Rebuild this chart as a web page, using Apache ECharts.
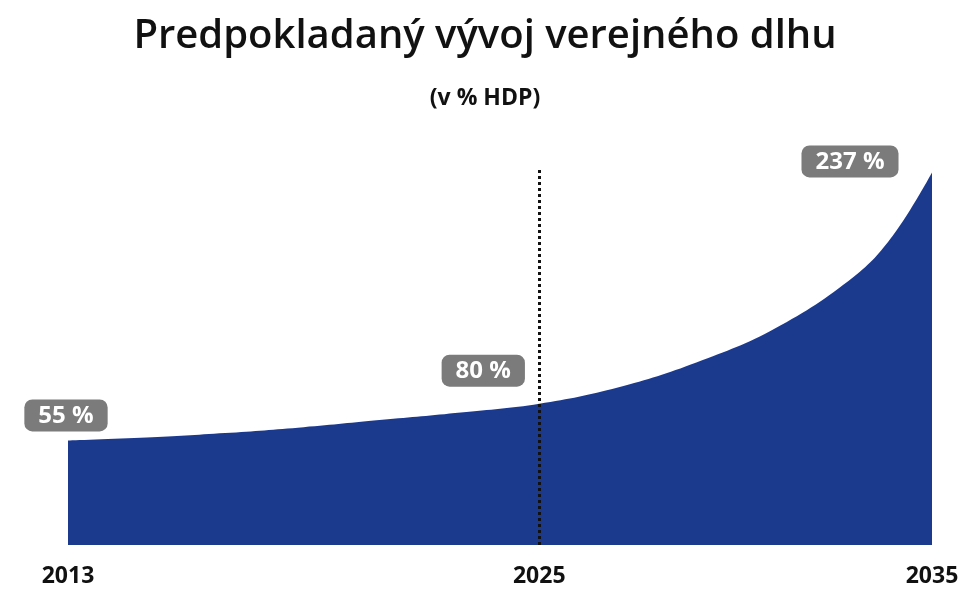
<!DOCTYPE html>
<html><head><meta charset="utf-8">
<script src="https://cdn.jsdelivr.net/npm/echarts@6/dist/echarts.min.js"></script>
<style>html,body{margin:0;padding:0;background:#fff}#c{width:970px;height:602px}</style>
</head><body><div id="c"></div>
<script>
const years = [2013,2015,2017,2019,2021,2023,2025,2027,2029,2031,2033,2034,2035];
const debt  = [55,57,60,64,69,74,80,91,108,131,166,194,237];
const tickYears = [2013,2025,2035];
const labelled = {2013:[-2,-4], 2025:[-56,-12], 2035:[-82,10]};
const chart = echarts.init(document.getElementById('c'));
const lbl = {show:true, position:'top', formatter:p=>p.value[1]+' %', color:'#fff', fontSize:24, fontWeight:'bold',
  fontFamily:'Open Sans', backgroundColor:'#7b7b7b', borderRadius:8, padding:[5,14,3,14]};
chart.setOption({
  title:[{text:'Predpokladaný vývoj verejného dlhu', left:'center', top:12,
    textStyle:{fontFamily:'Open Sans', fontSize:40, fontWeight:600, color:'#111'}},
    {text:'(v % HDP)', left:'center', top:82, textStyle:{fontFamily:'Open Sans', fontSize:23, fontWeight:'bold', color:'#111'}}],
  grid:{left:68, right:38, top:168, bottom:57},
  xAxis:{type:'value', min:2013, max:2035, axisLine:{show:false}, axisTick:{show:false}, splitLine:{show:false},
    axisLabel:{customValues:tickYears, formatter:v=>String(v), color:'#111', fontSize:23, fontWeight:'bold', fontFamily:'Open Sans', margin:20}},
  yAxis:{type:'value', min:-16, max:240, show:false},
  series:[{type:'line', smooth:0.4, symbol:'circle', symbolSize:0, showSymbol:true, lineStyle:{width:0},
    areaStyle:{color:'#1c3a8d', opacity:1, origin:'start'},
    data: years.map((y,i)=>{
      const d={value:[y,debt[i]]};
      if(labelled[y]) d.label=Object.assign({}, lbl, {offset:labelled[y]});
      return d;
    }),
    markLine:{silent:true, symbol:'none', label:{show:false},
      lineStyle:{color:'#111', type:'dotted', width:3}, data:[{xAxis:2025}]}
  }]
});
</script></body></html>
